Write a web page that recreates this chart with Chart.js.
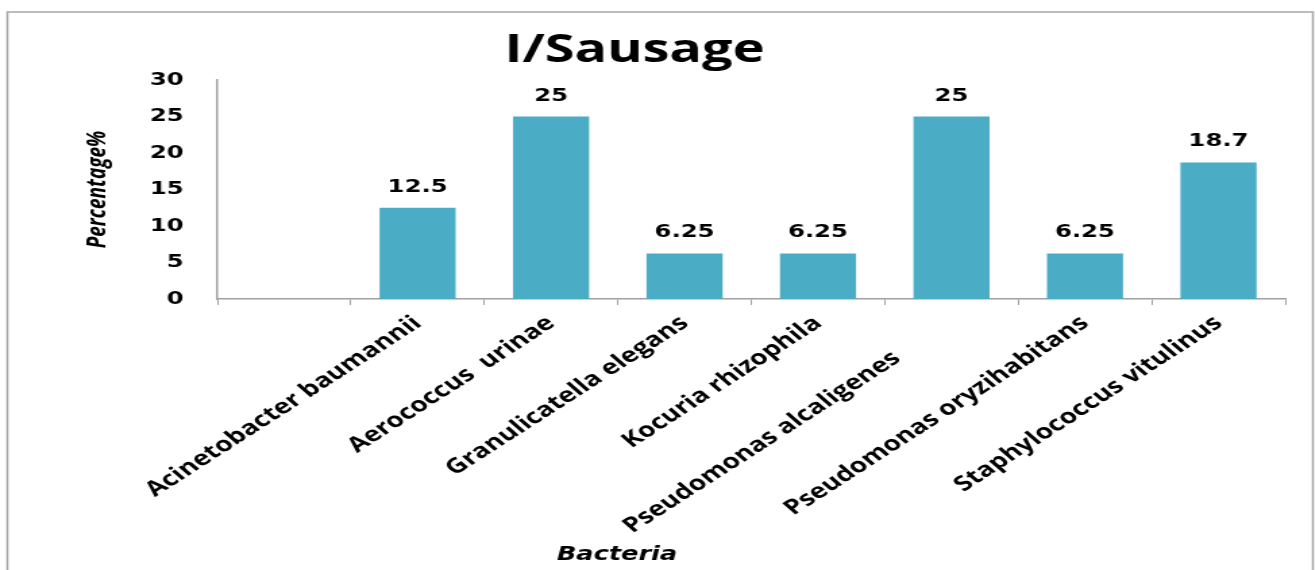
<!DOCTYPE html>
<html>
<head>
<meta charset="utf-8">
<script src="https://cdn.jsdelivr.net/npm/chart.js"></script>
<style>
  body { margin: 0; background: #fff; }
  #wrap { width: 1315px; height: 570px; overflow: hidden; }
  /* the reference picture is stretched sideways, so the canvas is too */
  #chart { transform: scaleX(1.35); transform-origin: 0 0; }
</style>
</head>
<body>
<div id="wrap"><canvas id="chart" width="974" height="570"></canvas></div>
<script>
// the alcaligenes label carries trailing spaces in the source sheet, which pushes it down the slope
let bacteria = ["", "Acinetobacter baumannii", "Aerococcus  urinae", "Granulicatella elegans", "Kocuria rhizophila",
    "Pseudomonas alcaligenes          ", "Pseudomonas oryzihabitans", "Staphylococcus vitulinus"];
let percentages = [null, 12.5, 25, 6.25, 6.25, 25, 6.25, 18.7];
let yTicks = [0, 5, 10, 15, 20, 25, 30];

let chartTitle = "I/Sausage";
let xTitle = "Bacteria";
let yTitle = "Percentage%";

let barColor = "#4BACC6";
let axisColor = "#A0A0A0";

// chart area edges (canvas units, before the css stretch)
let leftPad = 61;
let plotLeft = 161, plotRight = 952, plotBottom = 299;

let framePlugin = {
    id: "frame",
    beforeDraw(chart) {
        let ctx = chart.ctx;
        ctx.save();
        ctx.strokeStyle = "#A6A6A6";
        ctx.lineWidth = 1.5;
        ctx.strokeRect(5.5, 12, 967, 620);
        ctx.restore();
    }
};

let textPlugin = {
    id: "texts",
    afterDraw(chart) {
        let ctx = chart.ctx;
        ctx.save();
        ctx.fillStyle = "#000";
        ctx.textAlign = "center";
        ctx.textBaseline = "alphabetic";
        ctx.font = 'bold 40px "Open Sans"';
        ctx.fillText(chartTitle, 470, 62);
        ctx.font = 'italic bold 19px "DejaVu Sans"';
        ctx.fillText(xTitle, 457, 560);
        ctx.restore();
    }
};

let valueLabels = {
    id: "valueLabels",
    afterDatasetsDraw(chart) {
        let ctx = chart.ctx;
        let meta = chart.getDatasetMeta(0);
        ctx.save();
        ctx.fillStyle = "#000";
        ctx.textAlign = "center";
        ctx.textBaseline = "alphabetic";
        ctx.font = 'bold 18px "DejaVu Sans"';
        meta.data.forEach((bar, i) => {
            let v = percentages[i];
            if (v === null) return;
            ctx.fillText(String(v), bar.x, bar.y - 16);
        });
        ctx.restore();
    }
};

new Chart(document.getElementById("chart"), {
    type: "bar",
    data: {
        labels: bacteria,
        datasets: [{
            data: percentages,
            backgroundColor: barColor,
            borderWidth: 0,
            categoryPercentage: 1,
            barPercentage: 0.57
        }]
    },
    options: {
        responsive: false,
        animation: false,
        layout: { padding: { left: leftPad, right: 974 - plotRight, top: 80, bottom: 0 } },
        plugins: {
            legend: { display: false },
            title: { display: false },
            tooltip: { enabled: false }
        },
        scales: {
            x: {
                grid: { display: true, drawOnChartArea: false, drawTicks: true, tickLength: 6, color: axisColor, lineWidth: 1 },
                border: { display: true, color: axisColor, width: 1.5 },
                ticks: {
                    color: "#000",
                    font: { family: "Open Sans", size: 20.7, weight: "bold" },
                    minRotation: 41,
                    maxRotation: 41,
                    autoSkip: false,
                    padding: 6
                },
                afterFit: s => { s.height = 570 - plotBottom; }
            },
            y: {
                min: yTicks[0],
                max: yTicks[yTicks.length - 1],
                grid: { display: false, drawTicks: false },
                border: { display: true, color: axisColor, width: 1.5 },
                ticks: {
                    stepSize: yTicks[1] - yTicks[0],
                    color: "#000",
                    font: { family: "DejaVu Sans", size: 18, weight: "bold" },
                    padding: 25
                },
                title: {
                    display: true,
                    text: yTitle,
                    color: "#000",
                    font: { family: "Open Sans", size: 19, weight: "bold", style: "italic" },
                    padding: 0
                },
                afterFit: s => { s.width = plotLeft - leftPad; }
            }
        }
    },
    plugins: [framePlugin, textPlugin, valueLabels]
});
</script>
</body>
</html>
